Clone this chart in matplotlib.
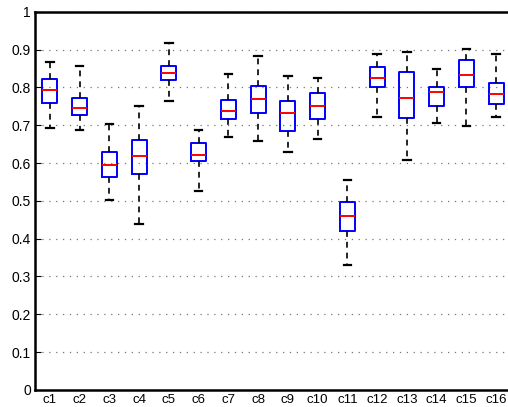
import matplotlib
matplotlib.use('Agg')
import matplotlib.pyplot as plt

# box statistics
labels = ['c%d' % i for i in range(1, 17)]
whislo = [0.694, 0.688, 0.503, 0.440, 0.765, 0.525, 0.668, 0.657,
          0.630, 0.663, 0.331, 0.723, 0.607, 0.706, 0.698, 0.721]
q1 = [0.758, 0.727, 0.564, 0.572, 0.819, 0.606, 0.717, 0.732,
      0.685, 0.717, 0.419, 0.800, 0.720, 0.751, 0.800, 0.757]
med = [0.792, 0.745, 0.596, 0.618, 0.839, 0.621, 0.737, 0.770,
       0.733, 0.752, 0.461, 0.824, 0.772, 0.787, 0.832, 0.783]
q3 = [0.823, 0.772, 0.630, 0.660, 0.856, 0.653, 0.768, 0.804,
      0.765, 0.785, 0.498, 0.855, 0.840, 0.800, 0.873, 0.812]
whishi = [0.867, 0.857, 0.703, 0.750, 0.917, 0.687, 0.836, 0.884,
          0.829, 0.826, 0.554, 0.888, 0.893, 0.849, 0.902, 0.889]
yticks = [0, 0.1, 0.2, 0.3, 0.4, 0.5, 0.6, 0.7, 0.8, 0.9, 1]

plt.rcParams['font.family'] = ['Liberation Sans', 'DejaVu Sans']

stats = []
for i in range(len(labels)):
    stats.append({'label': labels[i], 'whislo': whislo[i], 'q1': q1[i],
                  'med': med[i], 'q3': q3[i], 'whishi': whishi[i], 'fliers': []})

fig = plt.figure(figsize=(5.08, 4.07), dpi=100)
ax = fig.add_axes([0.069, 0.042, 0.937, 0.929])

ax.bxp(stats, positions=range(1, 17), widths=0.5, showfliers=False,
       boxprops=dict(color='blue', linewidth=1.4),
       medianprops=dict(color='red', linewidth=1.4),
       whiskerprops=dict(color='black', linewidth=1.2, linestyle=(0, (3.5, 3))),
       capprops=dict(color='black', linewidth=1.6),
       capwidths=0.25)

ax.set_xlim(0.5, 16.5)
ax.set_ylim(0, 1)
ax.set_yticks(yticks)
ax.set_yticklabels(['%g' % t for t in yticks])
ax.yaxis.grid(True, linestyle=(0, (1, 4.5)), color='#777777', linewidth=0.9)
ax.set_axisbelow(True)
ax.tick_params(axis='y', direction='in', length=4, labelsize=10, pad=3)
ax.tick_params(axis='x', length=0, labelsize=9.5, pad=3)
for s in ax.spines.values():
    s.set_linewidth(1.8)
ax.spines['right'].set_visible(False)

fig.savefig('out.png', dpi=100)
